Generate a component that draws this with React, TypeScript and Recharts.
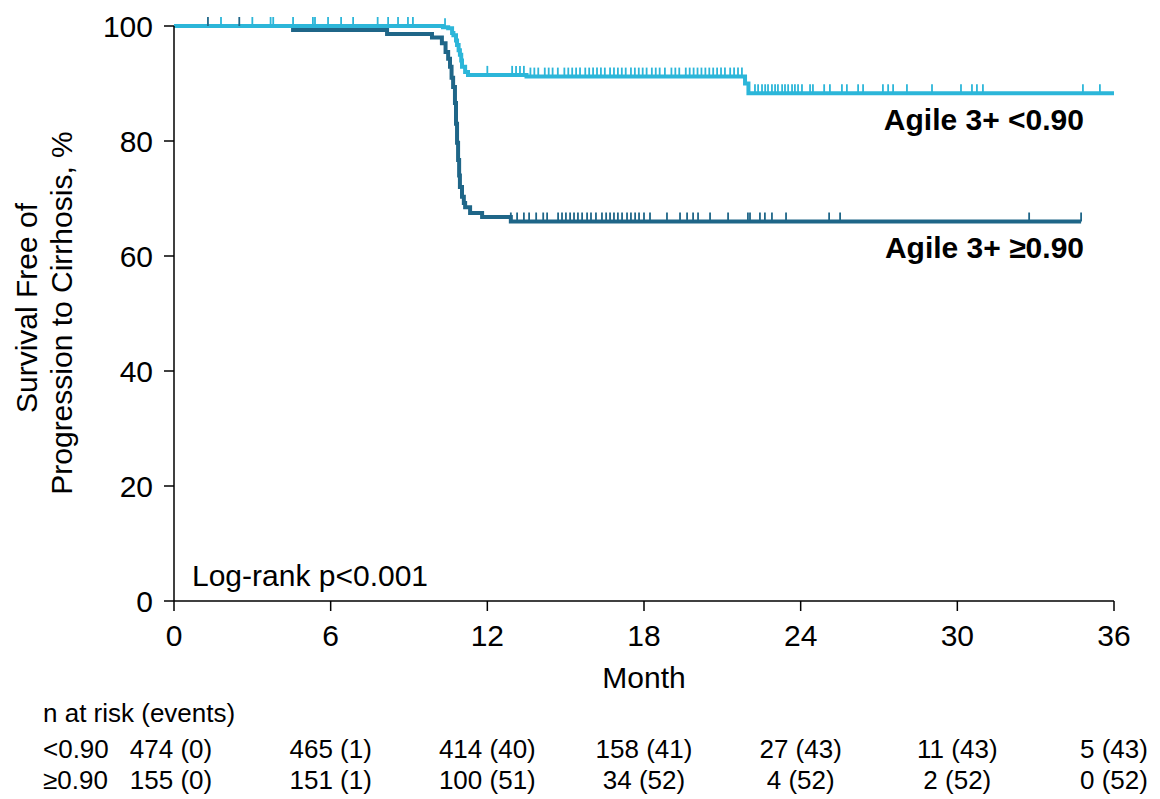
import { ComposedChart, Line, Scatter, XAxis, YAxis } from "recharts";

const FONT = "'Liberation Sans', Arial, sans-serif";
const LIGHT = "#2cb6d9";
const DARK = "#1f6688";

// KM steps for Agile 3+ <0.90 (month, survival %)
const lowTimes = [0, 10.3, 10.5, 10.65, 10.7, 10.8, 10.84, 10.9, 10.95, 11.0, 11.03, 11.15, 11.26, 13.5, 21.87, 22.0, 36];
const lowSurv = [100, 99.8, 99.6, 98.8, 98.4, 97.5, 96.7, 95.8, 95.0, 94.0, 92.9, 92.0, 91.5, 91.2, 90.0, 88.3, 88.3];

// KM steps for Agile 3+ >=0.90
const highTimes = [0, 4.56, 8.16, 9.88, 10.26, 10.4, 10.5, 10.57, 10.63, 10.69, 10.76, 10.8, 10.84, 10.88, 10.92, 10.95, 11.03, 11.1, 11.15, 11.34, 11.8, 12.9, 34.74];
const highSurv = [100, 99.3, 98.6, 98.0, 97.0, 95.5, 94.3, 92.9, 91.0, 89.4, 86.6, 83.0, 79.7, 76.7, 74.0, 72.0, 70.3, 69.2, 68.5, 67.5, 66.8, 66.0, 66.0];

// censored observations (months)
const lowCensor = [
  1.8, 3.0, 3.7, 3.8, 4.56, 5.32, 5.4, 5.9, 6.4, 6.86, 7.8, 8.2, 8.58, 8.96, 9.15, 10.38,
  12.0, 12.95, 13.1, 13.25, 13.4, 13.65, 13.8, 13.95, 14.2, 14.35, 14.5, 14.7, 14.95, 15.1,
  15.25, 15.4, 15.55, 15.75, 15.9, 16.05, 16.2, 16.35, 16.5, 16.7, 16.85, 17.0, 17.15, 17.3,
  17.5, 17.65, 17.8, 17.95, 18.1, 18.3, 18.45, 18.6, 18.8, 19.05, 19.2, 19.35, 19.6, 19.75,
  19.9, 20.05, 20.2, 20.35, 20.5, 20.65, 20.8, 20.95, 21.1, 21.3, 21.45, 21.6, 21.75,
  22.25, 22.37, 22.52, 22.64, 22.75, 22.9, 23.02, 23.13, 23.29, 23.4, 23.52, 23.67, 23.78,
  23.9, 24.05, 24.36, 24.47, 24.9, 25.12, 25.58, 25.77, 26.2, 26.39, 27.15, 27.35, 27.54,
  28.07, 29.03, 30.14, 30.56, 30.75, 30.98, 34.81, 35.46,
];
const highCensor = [
  1.3, 2.5, 12.9, 13.14, 13.4, 13.6, 13.87, 14.14, 14.29, 14.71, 14.86, 15.01, 15.17, 15.32,
  15.47, 15.63, 15.82, 15.97, 16.16, 16.39, 16.55, 16.7, 16.85, 17.0, 17.16, 17.35, 17.5,
  17.66, 17.81, 18.0, 18.23, 18.88, 19.38, 19.65, 19.88, 20.07, 20.53, 21.22, 21.98, 22.06,
  22.44, 22.63, 22.9, 23.44, 25.09, 25.51, 32.75, 34.74,
];

const xTicks = [0, 6, 12, 18, 24, 30, 36];
const yTicks = [0, 20, 40, 60, 80, 100];

// number at risk (events)
const lowN = [474, 465, 414, 158, 27, 11, 5];
const lowEvents = [0, 1, 40, 41, 43, 43, 43];
const highN = [155, 151, 100, 34, 4, 2, 0];
const highEvents = [0, 1, 51, 52, 52, 52, 52];

const PLOT_LEFT = 174;
const PLOT_RIGHT = 1114;

function survAt(times: number[], surv: number[], t: number) {
  let v = surv[0];
  for (let i = 0; i < times.length; i++) {
    if (times[i] <= t) v = surv[i];
  }
  return v;
}

const lowData = lowTimes.map((t, i) => ({ t, s: lowSurv[i] }));
const highData = highTimes.map((t, i) => ({ t, s: highSurv[i] }));
const lowMarks = lowCensor.map((t) => ({ t, s: survAt(lowTimes, lowSurv, t) }));
const highMarks = highCensor.map((t) => ({ t, s: survAt(highTimes, highSurv, t) }));

const censorShape = (color: string) => (props: any) => {
  const { cx, cy } = props;
  return <line x1={cx} x2={cx} y1={cy} y2={cy - 9} stroke={color} strokeWidth={1.8} />;
};

const colX = (m: number) => PLOT_LEFT + (m / 36) * (PLOT_RIGHT - PLOT_LEFT);

export default function App() {
  const tickStyle = { fill: "#000", fontSize: 30, fontFamily: FONT };
  return (
    <div
      style={{
        position: "absolute",
        left: 0,
        top: 0,
        width: 1160,
        height: 799,
        background: "#fff",
        fontFamily: FONT,
      }}
    >
      <ComposedChart
        width={1160}
        height={660}
        margin={{ top: 26, right: 46, left: 104, bottom: 9 }}
      >
        <XAxis
          type="number"
          dataKey="t"
          domain={[0, 36]}
          ticks={xTicks}
          interval={0}
          height={50}
          tick={tickStyle}
          tickSize={10}
          tickMargin={14}
          axisLine={{ stroke: "#000", strokeWidth: 1.5 }}
          tickLine={{ stroke: "#000", strokeWidth: 1.5 }}
        />
        <YAxis
          type="number"
          dataKey="s"
          domain={[0, 100]}
          ticks={yTicks}
          interval={0}
          width={70}
          tick={tickStyle}
          tickSize={10}
          tickMargin={11}
          axisLine={{ stroke: "#000", strokeWidth: 1.5 }}
          tickLine={{ stroke: "#000", strokeWidth: 1.5 }}
        />
        <Line
          data={highData}
          dataKey="s"
          type="stepAfter"
          stroke={DARK}
          strokeWidth={4}
          dot={false}
          activeDot={false}
          isAnimationActive={false}
        />
        <Scatter
          data={highMarks}
          dataKey="s"
          shape={censorShape(DARK)}
          isAnimationActive={false}
        />
        <Line
          data={lowData}
          dataKey="s"
          type="stepAfter"
          stroke={LIGHT}
          strokeWidth={4}
          dot={false}
          activeDot={false}
          isAnimationActive={false}
        />
        <Scatter
          data={lowMarks}
          dataKey="s"
          shape={censorShape(LIGHT)}
          isAnimationActive={false}
        />
      </ComposedChart>

      <svg
        width={1160}
        height={799}
        style={{ position: "absolute", left: 0, top: 0, pointerEvents: "none" }}
        fontFamily={FONT}
      >
        <text x={1084} y={130} textAnchor="end" fontSize={30} fontWeight="bold" fill="#000">
          Agile 3+ &lt;0.90
        </text>
        <text x={1084} y={258} textAnchor="end" fontSize={30} fontWeight="bold" fill="#000">
          Agile 3+ ≥0.90
        </text>
        <text x={192} y={586} fontSize={30} fill="#000">
          Log-rank p&lt;0.001
        </text>
        <text x={644} y={688} textAnchor="middle" fontSize={30} fill="#000">
          Month
        </text>
        <text transform="translate(37,308) rotate(-90)" textAnchor="middle" fontSize={30} fill="#000">
          Survival Free of
        </text>
        <text transform="translate(72,313) rotate(-90)" textAnchor="middle" fontSize={30} fill="#000">
          Progression to Cirrhosis, %
        </text>

        <text x={43} y={722} fontSize={26} fill="#000">
          n at risk (events)
        </text>
        <text x={43} y={758} fontSize={26} fill="#000">
          &lt;0.90
        </text>
        <text x={43} y={789} fontSize={26} fill="#000">
          ≥0.90
        </text>
        {xTicks.map((m, i) => (
          <text key={"l" + m} x={i === 0 ? 171 : colX(m)} y={758} textAnchor="middle" fontSize={26} fill="#000">
            {`${lowN[i]} (${lowEvents[i]})`}
          </text>
        ))}
        {xTicks.map((m, i) => (
          <text key={"h" + m} x={i === 0 ? 171 : colX(m)} y={789} textAnchor="middle" fontSize={26} fill="#000">
            {`${highN[i]} (${highEvents[i]})`}
          </text>
        ))}
      </svg>
    </div>
  );
}
